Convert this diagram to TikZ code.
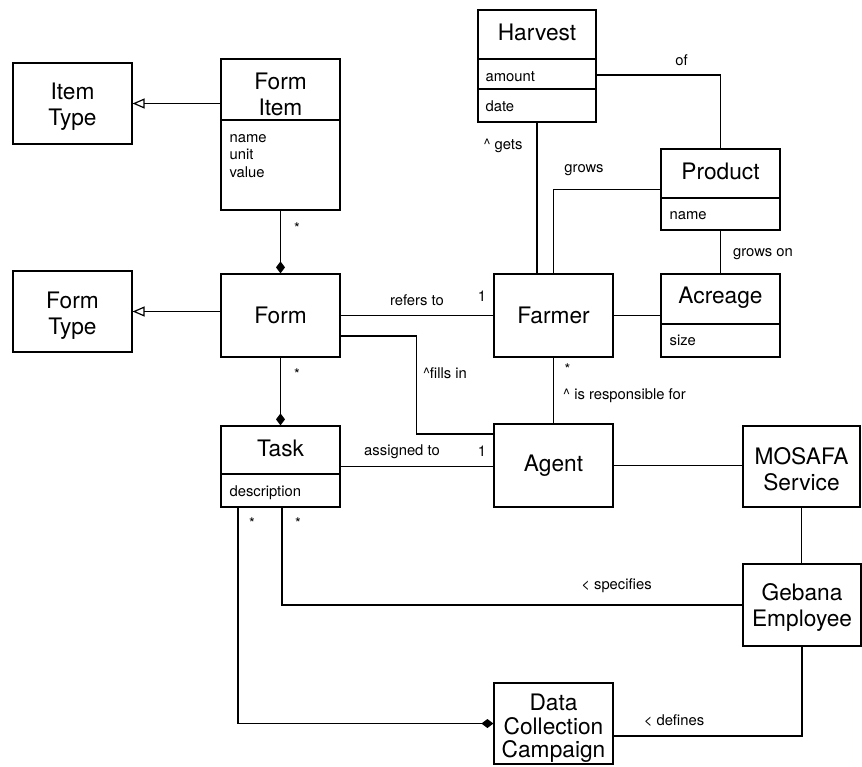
\documentclass[tikz,border=0pt]{standalone}
\usepackage{fontspec}
\setmainfont{TeX Gyre Heros}
\usetikzlibrary{arrows.meta,calc}
\newcommand\bigfnt{\fontsize{22.7}{26.5}\selectfont}
\newcommand\smallfnt{\fontsize{14.8}{17.5}\selectfont}
\begin{document}
\begin{tikzpicture}[x=1pt,y=-1pt,line width=1.2pt,
  box/.style={draw, inner sep=0pt, minimum width=119pt, minimum height=81pt, align=center, font=\bigfnt},
  title/.style={font=\bigfnt, align=center, inner sep=0pt},
  attr/.style={font=\smallfnt, anchor=base west, inner sep=0pt},
  lbl/.style={font=\smallfnt, inner sep=0pt},
  starlbl/.style={font=\smallfnt, inner sep=0pt, anchor=base},
  gen/.style={-{Triangle[open,length=12pt,width=10pt]}},
  comp/.style={-{Diamond[length=12pt,width=9pt]}}]
\useasboundingbox (0,0) rectangle (862,766);

% simple classes
\node[box] (itemtype) at (72.5,103.5) {};
\node[title] (itemtypeT) at (72.5,106.5) {Item\\Type};
\node[box] (formtype) at (72.5,311.5) {};
\node[title] (formtypeT) at (72.5,315.5) {Form\\Type};
\node[box, minimum height=83pt] (form) at (280.5,315.5) {Form};
\node[box, minimum height=83pt] (farmer) at (553.5,315.5) {Farmer};
\node[box, minimum height=83pt] (agent) at (553.5,465.5) {Agent};
\node[box, minimum width=117pt] (mosafa) at (801.5,466.5) {};
\node[title] (mosafaT) at (801.5,469) {MOSAFA\\Service};
\node[box, minimum width=118pt, minimum height=82pt] (gebana) at (802,605) {};
\node[title] (gebanaT) at (802,607.5) {Gebana\\Employee};
\node[box] (dcc) at (553.5,723.5) {};
\node[title, font=\fontsize{22.7}{23.5}\selectfont] (dccT) at (553.5,728.5) {Data\\Collection\\Campaign};

% Form Item
\node[box, minimum height=151pt] (formitem) at (280.5,134.5) {};
\node[title] (formitemT) at (280.5,94.5) {Form\\Item};
\draw (formitem.west |- 0,120) -- (formitem.east |- 0,120);
\node[attr] (fiA) at (229,142) {name};
\node[attr] (fiB) at (229,159.5) {unit};
\node[attr] (fiC) at (229,177) {value};

% Harvest
\node[box, minimum width=118pt, minimum height=112pt] (harvest) at (537,66) {};
\node[title] (harvestT) at (537,32) {Harvest};
\draw (harvest.west |- 0,59) -- (harvest.east |- 0,59);
\draw (harvest.west |- 0,89) -- (harvest.east |- 0,89);
\node[attr] (hvA) at (485,81) {amount};
\node[attr] (hvB) at (485,111) {date};

% Product
\node[box] (product) at (720.5,189.5) {};
\node[title] (productT) at (720.5,171) {Product};
\draw (product.west |- 0,198) -- (product.east |- 0,198);
\node[attr] (prA) at (669,219.5) {name};

% Acreage
\node[box, minimum height=83pt] (acreage) at (720.5,315.5) {};
\node[title] (acreageT) at (720.5,298) {Acreage};
\draw (acreage.west |- 0,324) -- (acreage.east |- 0,324);
\node[attr] (acA) at (669,345.5) {size};

% Task
\node[box] (task) at (280.5,466.5) {};
\node[title] (taskT) at (280.5,448.5) {Task};
\draw (task.west |- 0,474) -- (task.east |- 0,474);
\node[attr] (tkA) at (229,496) {description};

% connectors
\draw[gen] (formitem.west |- itemtype.east) -- (itemtype.east);
\draw[gen] (form.west |- formtype.east) -- (formtype.east);
\draw[comp] (formitem.south) -- (form.north);
\draw[comp] (form.south) -- (task.north);
\draw ([yshift=-9pt]harvest.east) -| (product.north);
\draw (harvest.south) -- (harvest.south |- farmer.north);
\draw (product.west) -| (farmer.north);
\draw (product.south) -- (acreage.north);
\draw (form.east) -- (form.east -| farmer.west);
\draw ([yshift=-20.5pt]form.east) -- ++(76,0) |- ([yshift=31.5pt]agent.west);
\draw (farmer.east) -- (acreage.west);
\draw (farmer.south) -- (agent.north);
\draw (task.east) -- (task.east -| agent.west);
\draw (agent.east) -- (agent.east -| mosafa.west);
\draw (mosafa.south) -- (mosafa.south |- gebana.north);
\draw ([xshift=1.5pt]task.south) |- (gebana.west);
\draw[comp] ([xshift=-42.5pt]task.south) |- (dcc.west);
\draw ([yshift=-12.5pt]dcc.east) -| (gebana.south);

% labels
\node[starlbl] (s1) at (297,233) {*};
\node[starlbl] (s2) at (297,379) {*};
\node[starlbl] (s3) at (567.5,374.5) {*};
\node[starlbl] (s4) at (252,528) {*};
\node[starlbl] (s5) at (298,528) {*};
\node[lbl] (lof) at (681.5,60) {of};
\node[lbl] (lgets) at (503,146) {\textasciicircum{} gets};
\node[lbl] (lgrows) at (584,170.5) {grows};
\node[lbl] (lgrowson) at (763,254) {grows on};
\node[lbl] (lrefers) at (417,300) {refers to};
\node[lbl] (lone1) at (482,296.5) {1};
\node[lbl] (lfills) at (445,373.5) {\textasciicircum fills in};
\node[lbl] (lresp) at (624.5,396) {\textasciicircum{} is responsible for};
\node[lbl] (lassigned) at (402,452) {assigned to};
\node[lbl] (lone2) at (482,451) {1};
\node[lbl] (lspec) at (616.5,586) {< specifies};
\node[lbl] (ldef) at (674,720.5) {< defines};
\end{tikzpicture}
\end{document}
